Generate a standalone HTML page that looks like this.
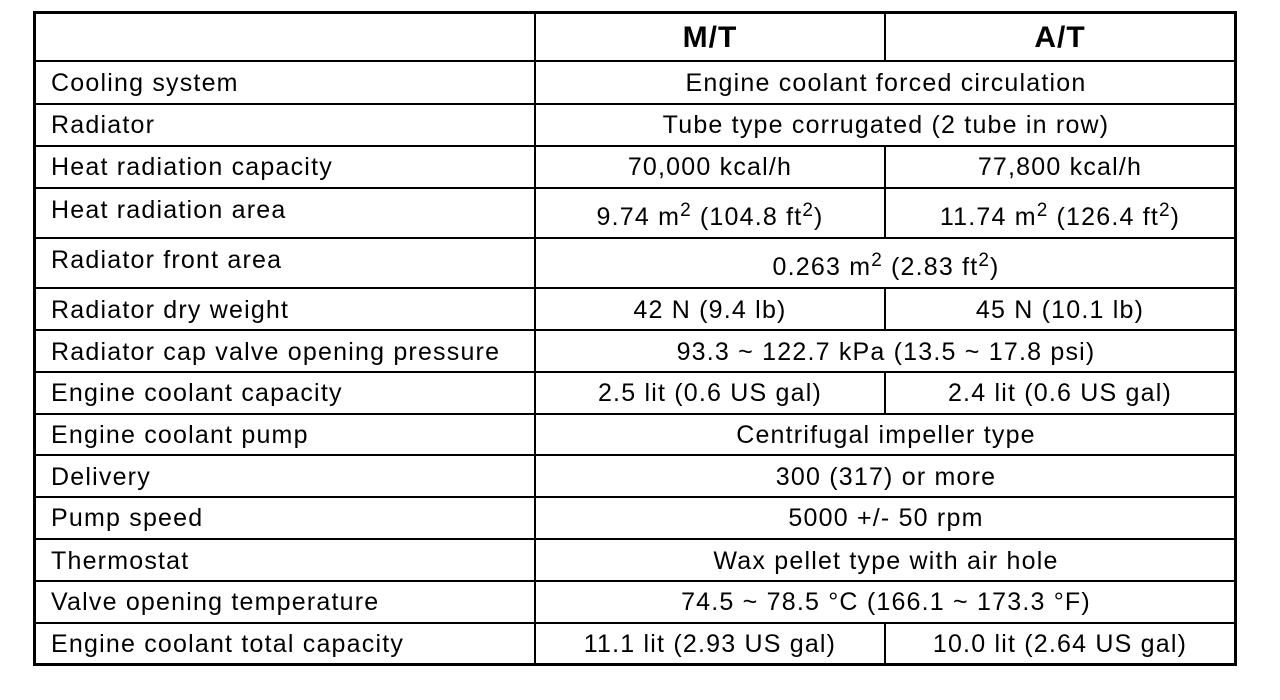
<!DOCTYPE html>
<html><head><meta charset="utf-8"><style>
body{margin:0;width:1280px;height:700px;background:#fff;position:relative;overflow:hidden;font-family:"Liberation Sans",Arial,sans-serif;color:#000}
.h{position:absolute;left:33px;width:1203px;height:2px;background:#000}
.v{position:absolute;width:2px;background:#000}
.t{position:absolute;font-size:25px;letter-spacing:1.2px;white-space:nowrap;line-height:26px}
.c{text-align:center}
sup{font-size:19px;vertical-align:9px;line-height:0;letter-spacing:1px}
</style></head><body>
<div style="position:absolute;left:33px;top:11px;width:1198px;height:649px;border:3px solid #000"></div>
<div class="h" style="top:60px"></div>
<div class="h" style="top:103px"></div>
<div class="h" style="top:145px"></div>
<div class="h" style="top:187px"></div>
<div class="h" style="top:237px"></div>
<div class="h" style="top:287px"></div>
<div class="h" style="top:329px"></div>
<div class="h" style="top:371px"></div>
<div class="h" style="top:413px"></div>
<div class="h" style="top:454px"></div>
<div class="h" style="top:496px"></div>
<div class="h" style="top:538px"></div>
<div class="h" style="top:580px"></div>
<div class="h" style="top:622px"></div>
<div class="v" style="left:534px;top:11px;height:652px"></div>
<div class="v" style="left:884px;top:11px;height:50px"></div>
<div class="v" style="left:884px;top:145px;height:93px"></div>
<div class="v" style="left:884px;top:287px;height:43px"></div>
<div class="v" style="left:884px;top:371px;height:43px"></div>
<div class="v" style="left:884px;top:622px;height:41px"></div>

<div class="t c" style="left:536px;width:348px;top:25px;font-size:30px;font-weight:bold;letter-spacing:1px">M/T</div>
<div class="t c" style="left:886px;width:348px;top:25px;font-size:30px;font-weight:bold;letter-spacing:1px">A/T</div>

<div class="t" style="left:51px;top:70px">Cooling system</div>
<div class="t" style="left:51px;top:112px">Radiator</div>
<div class="t" style="left:51px;top:154px">Heat radiation capacity</div>
<div class="t" style="left:51px;top:197px">Heat radiation area</div>
<div class="t" style="left:51px;top:247px">Radiator front area</div>
<div class="t" style="left:51px;top:297px">Radiator dry weight</div>
<div class="t" style="left:51px;top:339px">Radiator cap valve opening pressure</div>
<div class="t" style="left:51px;top:380px">Engine coolant capacity</div>
<div class="t" style="left:51px;top:422px">Engine coolant pump</div>
<div class="t" style="left:51px;top:464px">Delivery</div>
<div class="t" style="left:51px;top:505px">Pump speed</div>
<div class="t" style="left:51px;top:548px">Thermostat</div>
<div class="t" style="left:51px;top:589px">Valve opening temperature</div>
<div class="t" style="left:51px;top:631px">Engine coolant total capacity</div>

<div class="t c" style="left:536px;width:700px;top:70px">Engine coolant forced circulation</div>
<div class="t c" style="left:536px;width:700px;top:112px">Tube type corrugated (2 tube in row)</div>
<div class="t c" style="left:536px;width:348px;top:154px">70,000 kcal/h</div>
<div class="t c" style="left:886px;width:348px;top:154px">77,800 kcal/h</div>
<div class="t c" style="left:536px;width:348px;top:204px">9.74 m<sup>2</sup> (104.8 ft<sup>2</sup>)</div>
<div class="t c" style="left:886px;width:348px;top:204px">11.74 m<sup>2</sup> (126.4 ft<sup>2</sup>)</div>
<div class="t c" style="left:536px;width:700px;top:254px">0.263 m<sup>2</sup> (2.83 ft<sup>2</sup>)</div>
<div class="t c" style="left:536px;width:348px;top:297px">42 N (9.4 lb)</div>
<div class="t c" style="left:886px;width:348px;top:297px">45 N (10.1 lb)</div>
<div class="t c" style="left:536px;width:700px;top:339px">93.3 ~ 122.7 kPa (13.5 ~ 17.8 psi)</div>
<div class="t c" style="left:536px;width:348px;top:380px">2.5 lit (0.6 US gal)</div>
<div class="t c" style="left:886px;width:348px;top:380px">2.4 lit (0.6 US gal)</div>
<div class="t c" style="left:536px;width:700px;top:422px">Centrifugal impeller type</div>
<div class="t c" style="left:536px;width:700px;top:464px">300 (317) or more</div>
<div class="t c" style="left:536px;width:700px;top:505px">5000 +/- 50 rpm</div>
<div class="t c" style="left:536px;width:700px;top:548px">Wax pellet type with air hole</div>
<div class="t c" style="left:536px;width:700px;top:589px">74.5 ~ 78.5 °C (166.1 ~ 173.3 °F)</div>
<div class="t c" style="left:536px;width:348px;top:631px">11.1 lit (2.93 US gal)</div>
<div class="t c" style="left:886px;width:348px;top:631px">10.0 lit (2.64 US gal)</div>
</body></html>
